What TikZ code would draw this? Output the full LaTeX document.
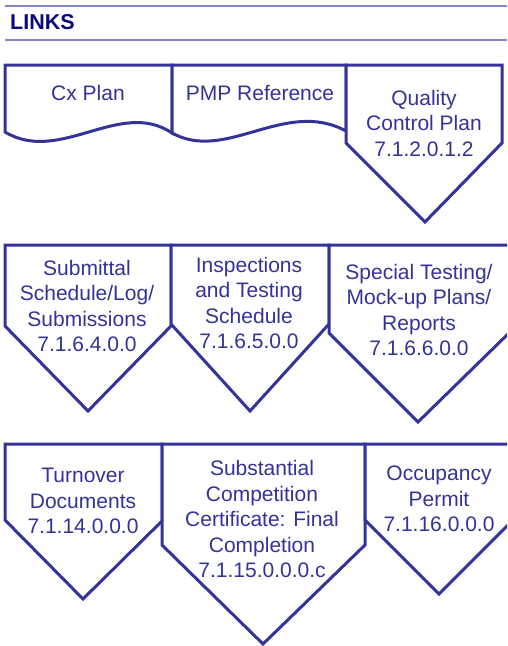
\documentclass[tikz,border=0pt]{standalone}
\usepackage{fontspec}
\setmainfont{Liberation Sans}
\definecolor{boxblue}{HTML}{333399}
\definecolor{navy}{HTML}{0A0A80}
\definecolor{rulecol}{HTML}{8585CC}
\begin{document}
\begin{tikzpicture}[x=1pt,y=-1pt,
  shapebox/.style={draw=boxblue,line width=3pt,line join=miter,fill=white},
  lbl/.style={text=boxblue,align=center,inner sep=0pt,font=\fontsize{21}{25.5}\selectfont},
  rulel/.style={draw=rulecol,line width=1.6pt}]
\useasboundingbox (0,0) rectangle (507,646);
\clip (0,0) rectangle (507,646);
% header
\coordinate (h1a) at (5,6); \coordinate (h1b) at (507,6);
\coordinate (h2a) at (5,40); \coordinate (h2b) at (507,40);
\draw[rulel] (h1a) -- (h1b);
\draw[rulel] (h2a) -- (h2b);
\node[anchor=base west,inner sep=0pt,text=navy,font=\fontsize{21.5}{25}\selectfont\bfseries] (links) at (10,29) {LINKS};
% row 1
\draw[shapebox] (5,65) -- (172,65) -- (172,133) .. controls (120,98) and (60,165) .. (5,132) -- cycle;
\draw[shapebox] (172,65) -- (346,65) -- (346,131) .. controls (285,98) and (226,163) .. (172,133) -- cycle;
\draw[shapebox] (346,65) -- (502,65) -- (502,143) -- (425,222) -- (346,143) -- cycle;
\node[lbl] (cx) at (88,93) {Cx Plan};
\node[lbl] (pmp) at (260,93) {PMP Reference};
\node[lbl] (qcp) at (424,123) {Quality\\Control Plan\\7.1.2.0.1.2};
% row 2
\draw[shapebox] (5,245) -- (171,245) -- (171,326) -- (88,411) -- (5,326) -- cycle;
\draw[shapebox] (171,245) -- (329,245) -- (329,324) -- (250,411) -- (171,324) -- cycle;
\draw[shapebox] (329,245) -- (509,245) -- (509,333) -- (418,422) -- (329,333) -- cycle;
\node[lbl] (sub) at (87,306) {Submittal\\Schedule/Log/\\Submissions\\7.1.6.4.0.0};
\node[lbl] (insp) at (249,303) {Inspections\\and Testing\\Schedule\\7.1.6.5.0.0};
\node[lbl] (spec) at (419,310) {Special Testing/\\Mock-up Plans/\\Reports\\7.1.6.6.0.0};
% row 3
\draw[shapebox] (5,444) -- (162,444) -- (162,521) -- (83,599) -- (5,520) -- cycle;
\draw[shapebox] (162,444) -- (365,444) -- (365,545) -- (263,644) -- (162,545) -- cycle;
\draw[shapebox] (365,444) -- (514,444) -- (514,519) -- (439,594) -- (365,520) -- cycle;
\node[lbl] (turn) at (83,501) {Turnover\\Documents\\7.1.14.0.0.0};
\node[lbl] (subst) at (262,519) {Substantial\\Competition\\Certificate: Final\\Completion\\7.1.15.0.0.0.c};
\node[lbl] (occ) at (439,499) {Occupancy\\Permit\\7.1.16.0.0.0};
\end{tikzpicture}
\end{document}
